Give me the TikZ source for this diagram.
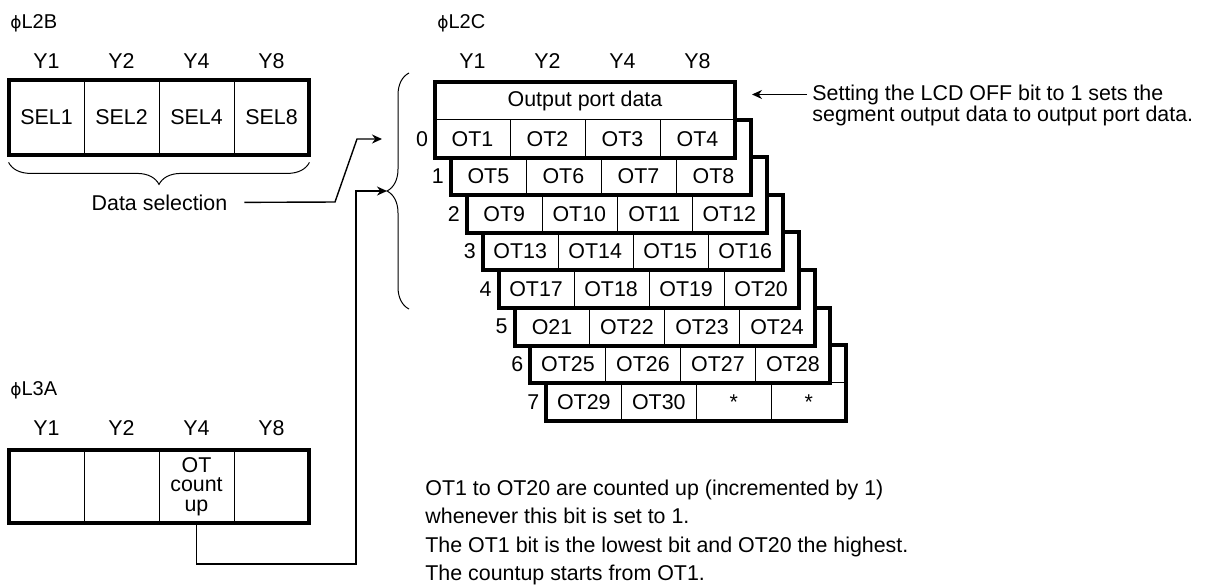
\documentclass[tikz,border=0pt]{standalone}
\usepackage{fontspec}
\setmainfont{Liberation Sans}
\newfontfamily\phifont{DejaVu Sans}
\usetikzlibrary{arrows.meta, decorations.pathreplacing, calc}

\begin{document}
\begin{tikzpicture}[
        x=0.5pt, y=-0.5pt,
        font=\fontsize{10.7}{10.7}\selectfont,
        cell/.style={rectangle, minimum width=37.5pt, minimum height=18.9pt, inner sep=0pt},
        frame/.style={draw, line width=2pt},
        divider/.style={draw, line width=0.5pt},
        note/.style={anchor=base west, inner sep=0pt},
        reg/.style={anchor=base west, inner sep=0pt, font=\fontsize{10}{10}\selectfont},
        link/.style={-{Stealth[length=5pt, width=4.5pt]}, line width=0.7pt},
        bracket/.style={decorate, decoration={brace, amplitude=11pt}, line width=0.5pt}
    ]

    \useasboundingbox (0,0) rectangle (1208,586);

    % L2B register
    \node[reg] (l2b) at (10,28) {{\phifont\fontsize{8.5}{8.5}\selectfont ϕ}L2B};
    \foreach \i/\lab in {1/Y1, 2/Y2, 3/Y4, 4/Y8}
        \node (by\i) at (-28.5+75*\i,61) {\lab};
    \foreach \i/\lab in {1/SEL1, 2/SEL2, 3/SEL4, 4/SEL8}
        \node[cell, minimum height=37.5pt] (sel\i) at (-28.5+75*\i,117.5) {\lab};
    \foreach \i in {1,2,3}
        \draw[divider] (sel\i.north east) -- (sel\i.south east);
    \draw[frame] (sel1.north west) rectangle (sel4.south east);
    \draw[bracket] ($(sel4.south east)+(0,7)$) -- ($(sel1.south west)+(0,7)$);
    \node[anchor=base] (dsel) at (159.5,210) {Data selection};

    % L2C register, drawn from the back card to the front one
    \node[reg] (l2c) at (437,28) {{\phifont\fontsize{8.5}{8.5}\selectfont ϕ}L2C};
    \foreach \i/\lab in {1/Y1, 2/Y2, 3/Y4, 4/Y8}
        \node (cy\i) at (397.5+75*\i,61) {\lab};
    \foreach \k/\la/\lb/\lc/\ld in {7/OT29/OT30/*/*, 6/OT25/OT26/OT27/OT28,
            5/O21/OT22/OT23/OT24, 4/OT17/OT18/OT19/OT20, 3/OT13/OT14/OT15/OT16,
            2/OT9/OT10/OT11/OT12, 1/OT5/OT6/OT7/OT8, 0/OT1/OT2/OT3/OT4} {
        \pgfmathsetmacro\cx{435+15.9*\k}
        \pgfmathsetmacro\cy{82+37.6*\k}
        \fill[white] (\cx,\cy) rectangle ++(300,75.6);
        \node[cell] (r\k-1) at (\cx+37.5,\cy+56.7) {\la};
        \node[cell] (r\k-2) at (\cx+112.5,\cy+56.7) {\lb};
        \node[cell] (r\k-3) at (\cx+187.5,\cy+56.7) {\lc};
        \node[cell] (r\k-4) at (\cx+262.5,\cy+56.7) {\ld};
        \foreach \j in {1,2,3}
            \draw[divider] (r\k-\j.north east) -- (r\k-\j.south east);
        \node (n\k) at (\cx-13,\cy+56.7) {\k};
        \draw[frame] (\cx,\cy) rectangle ++(300,75.6);
    }
    \node[cell, minimum width=150pt] (opd) at (585,100.9) {Output port data};
    \draw[divider] (r0-1.north west) -- (r0-4.north east);
    \draw[divider] (r7-1.north west) -- (r7-4.north east);
    \draw[bracket] (409,309) -- (409,73);

    % L3A register
    \node[reg] (l3a) at (10,395) {{\phifont\fontsize{8.5}{8.5}\selectfont ϕ}L3A};
    \foreach \i/\lab in {1/Y1, 2/Y2, 3/Y4, 4/Y8}
        \node (ay\i) at (-28.5+75*\i,428) {\lab};
    \foreach \i in {1,2,4}
        \node[cell, minimum height=36.5pt] (a\i) at (-28.5+75*\i,486.5) {};
    \node[cell, minimum height=36.5pt, align=center, font=\fontsize{10.7}{9.8}\selectfont]
        (a3) at (196.5,486.5) {OT\\count\\up};
    \foreach \i in {1,2,3}
        \draw[divider] (a\i.north east) -- (a\i.south east);
    \draw[frame] (a1.north west) rectangle (a4.south east);

    % notes
    \node[note] (lcd1) at (812,100) {Setting the LCD OFF bit to 1 sets the};
    \node[note] (lcd2) at (812,121.7) {segment output data to output port data.};
    \node[note] (cnt1) at (425,495) {OT1 to OT20 are counted up (incremented by 1)};
    \node[note] (cnt2) at (425,523.5) {whenever this bit is set to 1.};
    \node[note] (cnt3) at (425,552) {The OT1 bit is the lowest bit and OT20 the highest.};
    \node[note] (cnt4) at (425,580.5) {The countup starts from OT1.};

    % connectors
    \coordinate (kneeA) at (335,202);
    \coordinate (kneeB) at (357,139);
    \coordinate (selin) at (382,139);
    \coordinate (cup) at (356,564);
    \coordinate (bend) at (356,191);
    \coordinate (btip) at (387,191);
    \coordinate (opdin) at (752,93);
    \draw[link] ([xshift=5pt]dsel.east) -- (kneeA) -- (kneeB) -- (selin);
    \draw[link] (a3.south) |- (cup) -- (bend) -- (btip);
    \draw[link] ([xshift=-2.5pt]lcd1.west) -- (lcd1.west -| opdin);

\end{tikzpicture}
\end{document}
